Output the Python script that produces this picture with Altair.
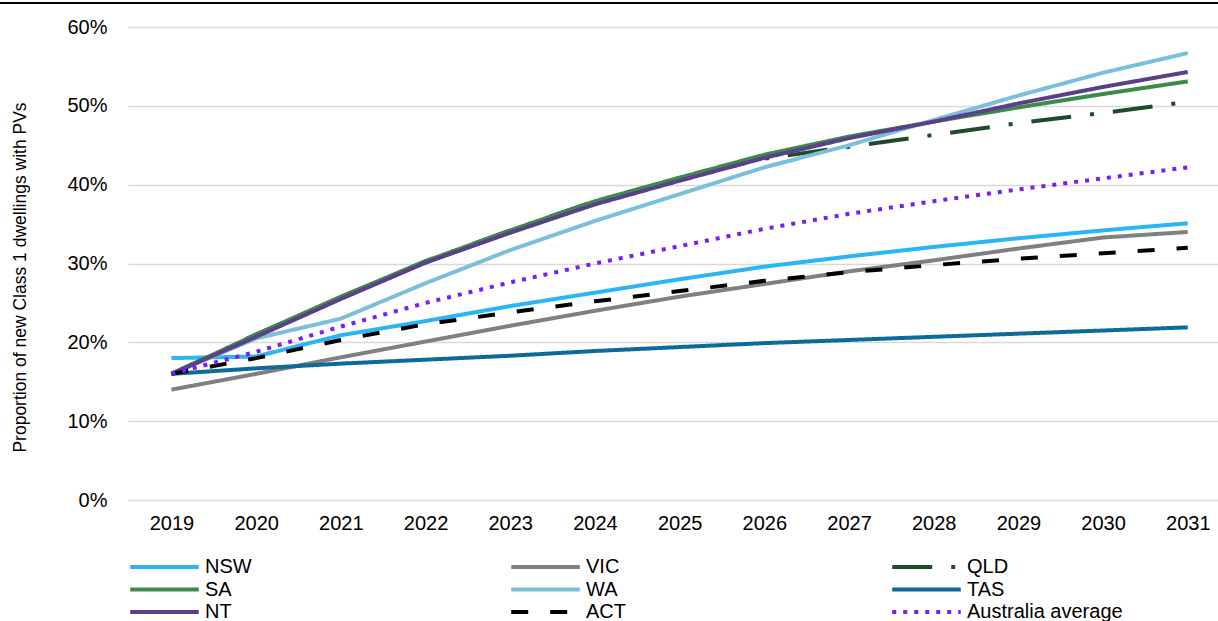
import altair as alt
import pandas as pd

years = [str(y) for y in range(2019, 2032)]
series = ["NSW", "VIC", "QLD", "SA", "WA", "TAS", "NT", "ACT", "Australia average"]

nsw = [18.0, 18.2, 20.9, 22.7, 24.6, 26.3, 28.0, 29.6, 30.9, 32.1, 33.2, 34.2, 35.1]
vic = [14.0, 16.0, 18.1, 20.1, 22.1, 24.0, 25.8, 27.4, 29.0, 30.4, 31.9, 33.3, 34.0]
qld = [16.0, 21.0, 25.6, 30.3, 34.2, 37.9, 40.8, 43.3, 44.8, 46.3, 47.8, 49.1, 50.5]
sa = [16.0, 21.0, 25.8, 30.3, 34.2, 37.9, 40.9, 43.8, 46.1, 48.0, 49.8, 51.5, 53.1]
wa = [16.0, 20.5, 23.0, 27.5, 31.7, 35.4, 38.8, 42.2, 45.0, 48.2, 51.3, 54.2, 56.7]
tas = [16.0, 16.7, 17.3, 17.8, 18.3, 18.9, 19.4, 19.9, 20.3, 20.7, 21.1, 21.5, 21.9]
nt = [16.0, 20.7, 25.5, 30.1, 33.9, 37.5, 40.5, 43.4, 45.9, 48.0, 50.3, 52.4, 54.3]
act = [16.0, 18.0, 20.3, 22.3, 23.8, 25.2, 26.5, 27.8, 28.9, 29.8, 30.6, 31.3, 32.0]
aus = [16.0, 18.8, 22.0, 25.0, 27.6, 30.0, 32.2, 34.4, 36.3, 37.9, 39.4, 40.8, 42.2]

values = [nsw, vic, qld, sa, wa, tas, nt, act, aus]
colors = ["#2AB5F4", "#808080", "#1E4B2B", "#3C8B4A", "#7BBFDA", "#0B6B9B", "#5B3F8A", "#000000", "#7A1DF7"]
dashes = [[1, 0], [1, 0], [40, 19, 4, 19], [1, 0], [1, 0], [1, 0], [1, 0], [17, 22], [4, 7]]

rows = []
for s, vals in zip(series, values):
    for y, v in zip(years, vals):
        rows.append({"series": s, "year": y, "value": v})
df = pd.DataFrame(rows)

FONT = "Liberation Sans"

legend = alt.Legend(
    title=None, orient="none", legendX=0, legendY=529, columns=3, direction="horizontal",
    symbolType="stroke", symbolSize=4700, symbolStrokeWidth=4, clipHeight=22,
    labelFontSize=20, labelFont=FONT, labelColor="#000000",
    gridAlign="all", columnPadding=148, rowPadding=0.5, labelOffset=4,
    labelLimit=400,
)

lines = alt.Chart(df).mark_line(strokeWidth=4).encode(
    x=alt.X("year:O", title=None,
            scale=alt.Scale(padding=0.435, align=0.59),
            axis=alt.Axis(labelAngle=0, labelFontSize=20, labelFont=FONT, labelColor="#000000",
                          domain=False, ticks=False, labelPadding=13, grid=False)),
    y=alt.Y("value:Q", title="Proportion of new Class 1 dwellings with PVs",
            scale=alt.Scale(domain=[0, 60], nice=False),
            axis=alt.Axis(values=[0, 10, 20, 30, 40, 50, 60], labelExpr="datum.value + '%'",
                          labelFontSize=20, labelFont=FONT, labelColor="#000000",
                          domain=False, ticks=False, labelPadding=21,
                          gridColor="#D9D9D9", gridWidth=1.3,
                          titleFontSize=17.5, titleFont=FONT, titleFontWeight="normal",
                          titleColor="#000000", titleX=-108, titleY=250,
                          titleAlign="center", titleBaseline="middle", titleAngle=270)),
    color=alt.Color("series:N", scale=alt.Scale(domain=series, range=colors), legend=legend),
    strokeDash=alt.StrokeDash("series:N", scale=alt.Scale(domain=series, range=dashes), legend=legend),
    order=alt.Order("year:O"),
)

border = alt.Chart(df).mark_rule(color="#000000", strokeWidth=1.5).encode(
    x=alt.value(-128), x2=alt.value(1090), y=alt.value(-24)
)

chart = alt.layer(border, lines).properties(
    width=1090, height=473,
    padding={"left": 128, "top": 27, "right": 0, "bottom": 121},
    autosize=alt.AutoSizeParams(type="none"),
).configure_view(stroke=None)

chart.save("out.html", embed_options={"renderer": "svg", "actions": False})
